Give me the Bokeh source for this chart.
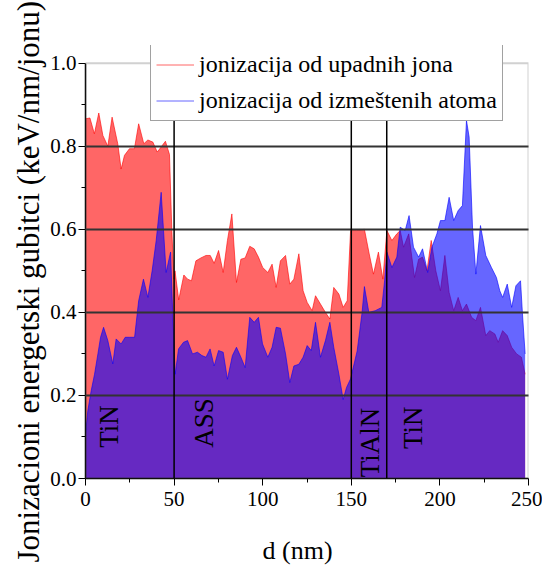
from bokeh.plotting import figure
from bokeh.embed import file_html
from bokeh.resources import INLINE
from bokeh.models import (Span, Label, Legend, LegendItem, FixedTicker, NumeralTickFormatter,
                          BoxAnnotation, Title)

# ---- data ----
red_x = [0, 2.5, 5, 7.5, 9.8, 12.6, 15, 18.2, 20.1, 22, 24.8, 27.6, 30, 32.9, 35.2, 38, 40.5, 43, 45.1, 47.4,
         48.7, 49.9, 50.5, 52.6, 55.5, 57.6, 59.8, 62.3, 65.1, 68, 70.4, 72.6, 75.1, 77.7, 80.1, 82.6, 85.2,
         87.7, 90.1, 92.7, 95.2, 97.6, 100, 102.9, 105.3, 107.6, 110, 112.9, 115.3, 117.6, 120.4, 122.8, 125.1,
         127.9, 129.8, 132.6, 135.4, 137.9, 140.1, 143, 145.4, 147.7, 149.6, 153.1, 157.4, 160.1, 162.5, 165.3,
         167.8, 170.1, 172.9, 175.7, 177.6, 179.5, 182.4, 185.7, 188, 190.2, 192.7, 195.1, 197.7, 200.3, 202.8,
         205.2, 207.8, 210.3, 212.7, 215, 217.9, 220.3, 222.9, 225.9, 228.1, 231, 232.9, 235.4, 238, 240.5,
         243.3, 246, 248.1]
red_y = [0.866, 0.868, 0.83, 0.88, 0.826, 0.80, 0.87, 0.806, 0.745, 0.778, 0.794, 0.794, 0.854, 0.806, 0.815,
         0.81, 0.786, 0.80, 0.812, 0.78, 0.60, 0.48, 0.50, 0.43, 0.49, 0.48, 0.476, 0.524, 0.531, 0.537, 0.537,
         0.518, 0.549, 0.496, 0.573, 0.637, 0.472, 0.528, 0.531, 0.559, 0.553, 0.533, 0.508, 0.496, 0.516, 0.46,
         0.524, 0.537, 0.468, 0.48, 0.541, 0.452, 0.424, 0.404, 0.44, 0.42, 0.40, 0.384, 0.46, 0.444, 0.412,
         0.428, 0.597, 0.597, 0.60, 0.541, 0.492, 0.545, 0.48, 0.597, 0.573, 0.589, 0.597, 0.557, 0.589, 0.484,
         0.528, 0.533, 0.50, 0.573, 0.50, 0.452, 0.537, 0.448, 0.404, 0.436, 0.404, 0.42, 0.388, 0.38, 0.412,
         0.344, 0.356, 0.348, 0.328, 0.356, 0.344, 0.316, 0.30, 0.292, 0.251]

blue_x = [0, 1.3, 3.2, 5.1, 7, 8.5, 10.2, 12.6, 15.4, 17.3, 20.1, 22.4, 24.8, 27.7, 30, 32.7, 35.2, 37.6, 39.9,
          42.7, 45.5, 48, 49.3, 50.6, 52.5, 55.3, 57.6, 60.4, 63.2, 65.7, 68, 70.3, 72.6, 75.1, 77.7, 80.1, 82.9,
          85.2, 87.7, 90.1, 92.7, 95.2, 97.6, 99.9, 102.9, 105.3, 107.6, 110, 112.9, 115.3, 117.6, 120.4, 122.8,
          125.1, 127.4, 129.8, 132.6, 135.4, 137.9, 140.1, 143, 145.4, 147.3, 149.6, 153.3, 156.1, 157.4, 159.9,
          163.5, 167.2, 168.8, 170.1, 172.9, 175.7, 177.6, 180.4, 182.6, 185.1, 188, 190.2, 193.1, 195.5, 198.3,
          200.3, 202.8, 205.2, 207.8, 210.3, 212.7, 215, 216.5, 218.4, 220.3, 222.9, 225.9, 229.1, 231.9, 233.8,
          235.4, 238, 240.5, 242.9, 245.5, 246.6, 248.1]
blue_y = [0.107, 0.163, 0.211, 0.251, 0.30, 0.34, 0.364, 0.332, 0.276, 0.336, 0.324, 0.34, 0.34, 0.34, 0.428,
          0.48, 0.436, 0.50, 0.573, 0.689, 0.496, 0.545, 0.388, 0.251, 0.312, 0.328, 0.332, 0.30, 0.304, 0.296,
          0.292, 0.312, 0.271, 0.308, 0.304, 0.239, 0.296, 0.316, 0.292, 0.267, 0.388, 0.376, 0.388, 0.324, 0.292,
          0.316, 0.364, 0.362, 0.30, 0.231, 0.271, 0.275, 0.292, 0.32, 0.308, 0.376, 0.292, 0.332, 0.376, 0.316,
          0.251, 0.19, 0.219, 0.24, 0.307, 0.40, 0.462, 0.40, 0.404, 0.412, 0.476, 0.545, 0.508, 0.533, 0.605,
          0.597, 0.633, 0.557, 0.533, 0.553, 0.496, 0.557, 0.589, 0.621, 0.621, 0.677, 0.621, 0.645, 0.657, 0.862,
          0.822, 0.605, 0.492, 0.609, 0.537, 0.508, 0.484, 0.452, 0.436, 0.468, 0.412, 0.464, 0.476, 0.396, 0.30]

series_names = ["jonizacija od upadnih jona", "jonizacija od izmeštenih atoma"]
layer_boundaries = [50, 150, 170]
layer_names = ["TiN", "ASS", "TiAlN", "TiN"]
layer_label_x = [13, 67, 160.6, 185]
layer_label_y = [0.074, 0.074, 0.003, 0.071]
x_ticks = [0, 50, 100, 150, 200, 250]
x_minor = [25, 75, 125, 175, 225]
y_ticks = [0.0, 0.2, 0.4, 0.6, 0.8, 1.0]
y_minor = [0.1, 0.3, 0.5, 0.7, 0.9]
grid_levels = [0.2, 0.4, 0.6, 0.8]
x_lim = (0, 250)
y_lim = (0, 1.0)
y_label = "Jonizacioni energetski gubitci (keV/nm/jonu)"
x_label = "d (nm)"

FONT = "'Liberation Serif', serif"

# frame extends a little above 1.0 so the legend can straddle the top border
p = figure(frame_width=443, frame_height=433, x_range=x_lim, y_range=(y_lim[0], 1.0425),
           output_backend="svg", toolbar_location=None,
           min_border_left=85, min_border_top=45, min_border_right=14, min_border_bottom=86)
p.background_fill_color = "white"
p.border_fill_color = "white"
p.outline_line_color = None

p.varea(x=red_x, y1=0, y2=red_y, fill_color="#ff0000", fill_alpha=0.6)
rline = p.line(red_x, red_y, line_color="#ff0000", line_alpha=0.6, line_width=1)
p.varea(x=blue_x, y1=0, y2=blue_y, fill_color="#0000ff", fill_alpha=0.6)
bline = p.line(blue_x, blue_y, line_color="#0000ff", line_alpha=0.6, line_width=1)

p.xgrid.visible = False
p.ygrid.ticker = FixedTicker(ticks=grid_levels)
p.ygrid.grid_line_color = "#333333"
p.ygrid.grid_line_width = 2
p.ygrid.level = "guide"

p.xaxis.ticker = FixedTicker(ticks=x_ticks, minor_ticks=x_minor)
p.yaxis.ticker = FixedTicker(ticks=y_ticks, minor_ticks=y_minor)
p.yaxis.formatter = NumeralTickFormatter(format="0.0")
p.yaxis.bounds = y_lim

for ax in (p.xaxis[0], p.yaxis[0]):
    ax.axis_line_color = "black"
    ax.axis_line_width = 1.5
    ax.major_tick_line_color = "black"
    ax.minor_tick_line_color = "black"
    ax.major_tick_out = 7
    ax.major_tick_in = 0
    ax.minor_tick_out = 4
    ax.minor_tick_in = 0
    ax.major_label_text_font = FONT
    ax.major_label_text_font_size = "21px"
    ax.major_label_text_color = "black"

p.xaxis.major_label_standoff = 6
p.yaxis.major_label_standoff = 2

xtitle = Title(text=x_label, align="left", offset=177, standoff=50, vertical_align="bottom",
               text_font=FONT, text_font_size="26px", text_font_style="normal",
               text_color="black")
p.add_layout(xtitle, "below")

ytitle = Title(text=y_label, align="left", offset=-84, standoff=4,
               text_font=FONT, text_font_size="31px", text_font_style="normal",
               text_color="black")
p.add_layout(ytitle, "left")

# frame border at the data limits
p.add_layout(BoxAnnotation(left=x_lim[0], right=x_lim[1], bottom=y_lim[0], top=y_lim[1],
                           fill_color=None, line_color="#666666", line_width=2))

for b in layer_boundaries:
    p.add_layout(Span(location=b, dimension="height", line_color="black", line_width=1.5))

for name, lx, ly in zip(layer_names, layer_label_x, layer_label_y):
    p.add_layout(Label(x=lx, y=ly, text=name, angle=90, angle_units="deg",
                       text_font=FONT, text_font_size="27px", text_color="black",
                       text_align="left", text_baseline="middle"))

legend = Legend(items=[LegendItem(label=series_names[0], renderers=[rline]),
                       LegendItem(label=series_names[1], renderers=[bline])],
                location=(65, 357))
legend.border_line_color = "#444444"
legend.border_line_width = 1.5
legend.background_fill_color = "white"
legend.background_fill_alpha = 1.0
legend.label_text_font = FONT
legend.label_text_font_size = "24px"
legend.label_text_color = "black"
legend.glyph_width = 38
legend.glyph_height = 29
legend.label_height = 29
legend.label_standoff = 5
legend.spacing = 7
legend.padding = 5
legend.margin = 0
p.add_layout(legend)

open("out.html", "w").write(file_html(p, INLINE))
